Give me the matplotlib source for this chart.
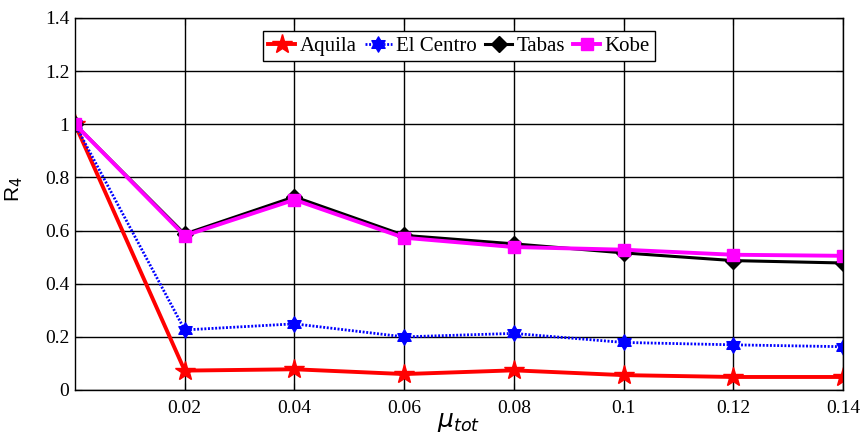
import numpy as np
import matplotlib.pyplot as plt
from matplotlib.path import Path

mu = [0, 0.02, 0.04, 0.06, 0.08, 0.10, 0.12, 0.14]
aquila = [1.0, 0.073, 0.078, 0.060, 0.074, 0.056, 0.049, 0.049]
el_centro = [1.0, 0.226, 0.249, 0.200, 0.213, 0.179, 0.170, 0.163]
tabas = [1.0, 0.587, 0.727, 0.582, 0.550, 0.516, 0.487, 0.478]
kobe = [1.0, 0.581, 0.716, 0.573, 0.538, 0.528, 0.509, 0.505]

xticks = [0.02, 0.04, 0.06, 0.08, 0.1, 0.12, 0.14]
xtick_labels = ['0.02', '0.04', '0.06', '0.08', '0.1', '0.12', '0.14']
yticks = [0, 0.2, 0.4, 0.6, 0.8, 1.0, 1.2, 1.4]
ytick_labels = ['0', '0.2', '0.4', '0.6', '0.8', '1', '1.2', '1.4']

# hexagram marker (six-pointed star)
ang = np.pi / 2 + np.arange(12) * np.pi / 6
rad = np.where(np.arange(12) % 2 == 0, 1.0, 1 / np.sqrt(3))
verts = list(zip(rad * np.cos(ang), rad * np.sin(ang)))
verts.append(verts[0])
hexagram = Path(verts, closed=True)

plt.rcParams['font.family'] = 'Liberation Serif'
fig = plt.figure(figsize=(8.61, 4.38), dpi=100)
ax = fig.add_axes([75 / 861, 48 / 438, 768 / 861, 372 / 438])

ax.plot(mu, aquila, color='red', lw=2.8, marker='*', ms=15, label='Aquila')
ax.plot(mu, el_centro, color='blue', lw=2.0, ls=(0, (0.7, 0.6)),
        marker=hexagram, ms=11, label='El Centro')
ax.plot(mu, tabas, color='black', lw=2.2, marker='D', ms=8, label='Tabas')
ax.plot(mu, kobe, color='magenta', lw=2.8, marker='s', ms=9, label='Kobe')

ax.set_xlim(0, 0.14)
ax.set_ylim(0, 1.4)
ax.set_xticks(xticks)
ax.set_xticklabels(xtick_labels)
ax.set_yticks(yticks)
ax.set_yticklabels(ytick_labels)
ax.tick_params(labelsize=14, direction='in', length=5, pad=4,
               top=True, right=True)
ax.tick_params(axis='x', pad=7)
ax.grid(True, color='black', lw=1.0, ls='-')
for s in ax.spines.values():
    s.set_color('black')
    s.set_linewidth(1.0)

ax.set_ylabel('R$_4$', fontsize=15, family='Liberation Sans')
ax.yaxis.set_label_coords(-0.065, 0.54)
ax.set_xlabel(r'$\mu_{tot}$', fontsize=18, labelpad=-4)

leg = ax.legend(loc='upper center', bbox_to_anchor=(0.5, 0.975), ncol=4,
                fontsize=15, frameon=True, fancybox=False, handlelength=1.3,
                handletextpad=0.2, columnspacing=0.4, borderpad=0.25,
                borderaxespad=0.2)
leg.get_frame().set_edgecolor('black')
leg.get_frame().set_linewidth(1.0)
leg.get_frame().set_alpha(1)

fig.savefig('out.png', dpi=100)
